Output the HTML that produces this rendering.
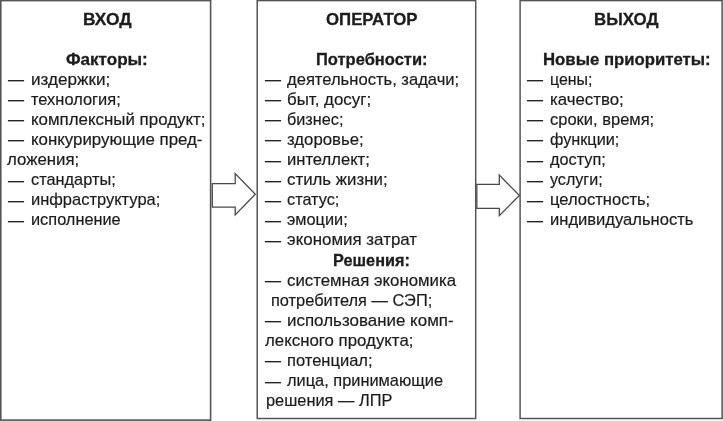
<!DOCTYPE html>
<html><head><meta charset="utf-8"><title>diagram</title>
<style>
html,body{margin:0;padding:0;background:#fff;}
body{width:723px;height:421px;position:relative;overflow:hidden;font-family:"Liberation Sans",sans-serif;color:#1c1c1c;}
.t{position:absolute;white-space:pre;line-height:1;transform-origin:0 0;filter:blur(0.4px);}
.r{font-size:17px;-webkit-text-stroke:0.2px #1c1c1c;}
.b{font-size:16.5px;font-weight:bold;-webkit-text-stroke:0.3px #1c1c1c;}
svg{position:absolute;left:0;top:0;filter:blur(0.3px);}
</style></head><body>
<svg width="723" height="421" viewBox="0 0 723 421">
<g fill="none" stroke-linejoin="miter">
<rect x="0.8" y="0.6" width="209.8" height="419.5" stroke="#555" stroke-width="1.6"/>
<rect x="257.2" y="0.6" width="218.5" height="417.9" stroke="#555" stroke-width="1.5"/>
<rect x="520.1" y="0.6" width="202" height="417.9" stroke="#555" stroke-width="1.5"/>
<path d="M212.3 183.6 H235.2 V173.6 L255.3 194.3 L235.2 214.9 V207.1 H212.3 Z" stroke="#4a4a4a" stroke-width="1.3" fill="#fff"/>
<path d="M476.8 184.4 H499.3 V175.1 L519.4 195.5 L499.3 215.6 V208.4 H476.8 Z" stroke="#4a4a4a" stroke-width="1.3" fill="#fff"/>
</g></svg>
<div class="t b" style="left:83.00px;top:10.63px;transform:scale(1.0512,1.0000)">ВХОД</div>
<div class="t b" style="left:66.00px;top:51.03px;transform:scale(1.0338,1.0000)">Факторы:</div>
<div class="t r" style="left:7.80px;top:71.21px;transform:scale(0.9412,1.0000)">—</div>
<div class="t r" style="left:30.70px;top:70.71px;transform:scale(1.0066,1.0000)">издержки;</div>
<div class="t r" style="left:7.80px;top:91.30px;transform:scale(0.9412,1.0000)">—</div>
<div class="t r" style="left:30.70px;top:90.80px;transform:scale(0.9661,1.0000)">технология;</div>
<div class="t r" style="left:7.80px;top:111.39px;transform:scale(0.9412,1.0000)">—</div>
<div class="t r" style="left:30.70px;top:110.89px;transform:scale(0.9937,1.0000)">комплексный продукт;</div>
<div class="t r" style="left:7.80px;top:131.48px;transform:scale(0.9412,1.0000)">—</div>
<div class="t r" style="left:30.70px;top:130.98px;transform:scale(0.9921,1.0000)">конкурирующие пред-</div>
<div class="t r" style="left:7.40px;top:151.07px;transform:scale(0.9902,1.0000)">ложения;</div>
<div class="t r" style="left:7.80px;top:171.66px;transform:scale(0.9412,1.0000)">—</div>
<div class="t r" style="left:30.70px;top:171.16px;transform:scale(0.9611,1.0000)">стандарты;</div>
<div class="t r" style="left:7.80px;top:191.75px;transform:scale(0.9412,1.0000)">—</div>
<div class="t r" style="left:30.70px;top:191.25px;transform:scale(0.9694,1.0000)">инфраструктура;</div>
<div class="t r" style="left:7.80px;top:211.84px;transform:scale(0.9412,1.0000)">—</div>
<div class="t r" style="left:30.70px;top:211.34px;transform:scale(0.9605,1.0000)">исполнение</div>
<div class="t b" style="left:326.00px;top:10.63px;transform:scale(1.0183,1.0000)">ОПЕРАТОР</div>
<div class="t b" style="left:315.50px;top:51.03px;transform:scale(1.0003,1.0000)">Потребности:</div>
<div class="t r" style="left:264.70px;top:71.21px;transform:scale(0.9412,1.0000)">—</div>
<div class="t r" style="left:286.70px;top:70.71px;transform:scale(0.9751,1.0000)">деятельность, задачи;</div>
<div class="t r" style="left:264.70px;top:91.30px;transform:scale(0.9412,1.0000)">—</div>
<div class="t r" style="left:286.70px;top:90.80px;transform:scale(0.9940,1.0000)">быт, досуг;</div>
<div class="t r" style="left:264.70px;top:111.39px;transform:scale(0.9412,1.0000)">—</div>
<div class="t r" style="left:286.70px;top:110.89px;transform:scale(0.9544,1.0000)">бизнес;</div>
<div class="t r" style="left:264.70px;top:131.48px;transform:scale(0.9412,1.0000)">—</div>
<div class="t r" style="left:286.70px;top:130.98px;transform:scale(0.9850,1.0000)">здоровье;</div>
<div class="t r" style="left:264.70px;top:151.57px;transform:scale(0.9412,1.0000)">—</div>
<div class="t r" style="left:286.70px;top:151.07px;transform:scale(0.9765,1.0000)">интеллект;</div>
<div class="t r" style="left:264.70px;top:171.66px;transform:scale(0.9412,1.0000)">—</div>
<div class="t r" style="left:286.70px;top:171.16px;transform:scale(0.9907,1.0000)">стиль жизни;</div>
<div class="t r" style="left:264.70px;top:191.75px;transform:scale(0.9412,1.0000)">—</div>
<div class="t r" style="left:286.70px;top:191.25px;transform:scale(0.9563,1.0000)">статус;</div>
<div class="t r" style="left:264.70px;top:211.84px;transform:scale(0.9412,1.0000)">—</div>
<div class="t r" style="left:286.70px;top:211.34px;transform:scale(0.9594,1.0000)">эмоции;</div>
<div class="t r" style="left:264.70px;top:231.93px;transform:scale(0.9412,1.0000)">—</div>
<div class="t r" style="left:286.70px;top:231.43px;transform:scale(0.9954,1.0000)">экономия затрат</div>
<div class="t b" style="left:332.80px;top:251.94px;transform:scale(0.9867,1.0000)">Решения:</div>
<div class="t r" style="left:264.70px;top:272.11px;transform:scale(0.9412,1.0000)">—</div>
<div class="t r" style="left:286.70px;top:271.61px;transform:scale(0.9879,1.0000)">системная экономика</div>
<div class="t r" style="left:271.20px;top:291.70px;transform:scale(0.9634,1.0000)">потребителя — СЭП;</div>
<div class="t r" style="left:264.70px;top:312.29px;transform:scale(0.9412,1.0000)">—</div>
<div class="t r" style="left:286.70px;top:311.79px;transform:scale(0.9970,1.0000)">использование комп-</div>
<div class="t r" style="left:265.30px;top:331.88px;transform:scale(0.9900,1.0000)">лексного продукта;</div>
<div class="t r" style="left:264.70px;top:352.47px;transform:scale(0.9412,1.0000)">—</div>
<div class="t r" style="left:286.70px;top:351.97px;transform:scale(0.9720,1.0000)">потенциал;</div>
<div class="t r" style="left:264.70px;top:372.56px;transform:scale(0.9412,1.0000)">—</div>
<div class="t r" style="left:286.70px;top:372.06px;transform:scale(0.9634,1.0000)">лица, принимающие</div>
<div class="t r" style="left:265.70px;top:392.15px;transform:scale(0.9623,1.0000)">решения — ЛПР</div>
<div class="t b" style="left:593.50px;top:10.63px;transform:scale(1.0236,1.0000)">ВЫХОД</div>
<div class="t b" style="left:542.90px;top:51.03px;transform:scale(1.0152,1.0000)">Новые приоритеты:</div>
<div class="t r" style="left:527.00px;top:71.21px;transform:scale(0.9412,1.0000)">—</div>
<div class="t r" style="left:549.70px;top:70.71px;transform:scale(0.9354,1.0000)">цены;</div>
<div class="t r" style="left:527.00px;top:91.30px;transform:scale(0.9412,1.0000)">—</div>
<div class="t r" style="left:549.70px;top:90.80px;transform:scale(0.9904,1.0000)">качество;</div>
<div class="t r" style="left:527.00px;top:111.39px;transform:scale(0.9412,1.0000)">—</div>
<div class="t r" style="left:549.70px;top:110.89px;transform:scale(0.9707,1.0000)">сроки, время;</div>
<div class="t r" style="left:527.00px;top:131.48px;transform:scale(0.9412,1.0000)">—</div>
<div class="t r" style="left:549.70px;top:130.98px;transform:scale(0.9548,1.0000)">функции;</div>
<div class="t r" style="left:527.00px;top:151.57px;transform:scale(0.9412,1.0000)">—</div>
<div class="t r" style="left:549.70px;top:151.07px;transform:scale(0.9557,1.0000)">доступ;</div>
<div class="t r" style="left:527.00px;top:171.66px;transform:scale(0.9412,1.0000)">—</div>
<div class="t r" style="left:549.70px;top:171.16px;transform:scale(0.9451,1.0000)">услуги;</div>
<div class="t r" style="left:527.00px;top:191.75px;transform:scale(0.9412,1.0000)">—</div>
<div class="t r" style="left:549.70px;top:191.25px;transform:scale(0.9728,1.0000)">целостность;</div>
<div class="t r" style="left:527.00px;top:211.84px;transform:scale(0.9412,1.0000)">—</div>
<div class="t r" style="left:549.70px;top:211.34px;transform:scale(0.9738,1.0000)">индивидуальность</div>
</body></html>
